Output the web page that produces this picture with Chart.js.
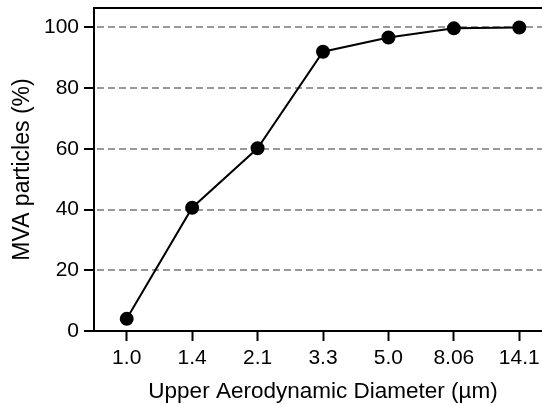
<!DOCTYPE html>
<html>
<head>
<meta charset="utf-8">
<script src="https://cdn.jsdelivr.net/npm/chart.js@4"></script>
<style>
  html, body { margin: 0; padding: 0; overflow: hidden; background: #fff; }
  #wrap { width: 560px; height: 405px; position: relative; }
</style>
</head>
<body>
<div id="wrap"><canvas id="chart"></canvas></div>
<script>
/* ===== Data ===== */
const diameters = ['1.0', '1.4', '2.1', '3.3', '5.0', '8.06', '14.1'];
const mvaPercent = [4, 40.6, 60.2, 92, 96.7, 99.7, 100];
const yTicks = [0, 20, 40, 60, 80, 100];

const FONT = '"Liberation Sans", Arial, sans-serif';

// top frame line (no right border, the plot runs off the page)
const topBorder = {
  id: 'topBorder',
  afterDraw(chart) {
    const { ctx, chartArea } = chart;
    ctx.save();
    ctx.strokeStyle = '#000';
    ctx.lineWidth = 2;
    ctx.beginPath();
    ctx.moveTo(chartArea.left - 1, chartArea.top);
    ctx.lineTo(chartArea.right, chartArea.top);
    ctx.stroke();
    ctx.restore();
  },
};

new Chart(document.getElementById('chart'), {
  type: 'line',
  data: {
    labels: diameters,
    datasets: [{
      data: mvaPercent,
      borderColor: '#000',
      borderWidth: 2,
      pointBackgroundColor: '#000',
      pointBorderColor: '#000',
      pointRadius: 6,
      tension: 0,
    }],
  },
  options: {
    responsive: true,
    maintainAspectRatio: false,
    animation: false,
    layout: { padding: { top: 7, right: 8, left: 0, bottom: 0 } },
    plugins: { legend: { display: false }, tooltip: { enabled: false } },
    scales: {
      x: {
        offset: true,
        grid: { offset: false, drawOnChartArea: false, drawTicks: true, tickLength: 10, tickColor: '#000', tickWidth: 2 },
        border: { color: '#000', width: 2 },
        ticks: { color: '#000', font: { family: FONT, size: 21 }, padding: 5, maxRotation: 0 },
        title: { display: true, text: 'Upper Aerodynamic Diameter (µm)', color: '#000', font: { family: FONT, size: 22.5 }, padding: { top: 0, bottom: 0 } },
        afterFit(scale) {
          scale.height = 74;
          scale.paddingLeft = 0;
          scale.paddingRight = 0;
        },
      },
      y: {
        min: 0,
        max: 106.4,
        afterBuildTicks(scale) { scale.ticks = yTicks.map(v => ({ value: v })); },
        grid: {
          color: ctx => ctx.tick && ctx.tick.value === 0 ? 'rgba(0,0,0,0)' : '#999',
          lineWidth: 2,
          tickLength: 10, tickColor: '#000', tickWidth: 2, tickBorderDash: [],
        },
        border: { color: '#000', width: 2, dash: [7, 4], dashOffset: -2 },
        ticks: { color: '#000', font: { family: FONT, size: 21 }, padding: 5 },
        title: { display: true, text: 'MVA particles (%)', color: '#000', font: { family: FONT, size: 23 }, padding: { top: 9, bottom: 0 } },
        afterFit(scale) {
          scale.width = 94;
          scale.paddingTop = 0;
          scale.paddingBottom = 0;
        },
      },
    },
  },
  plugins: [topBorder],
});
</script>
</body>
</html>
